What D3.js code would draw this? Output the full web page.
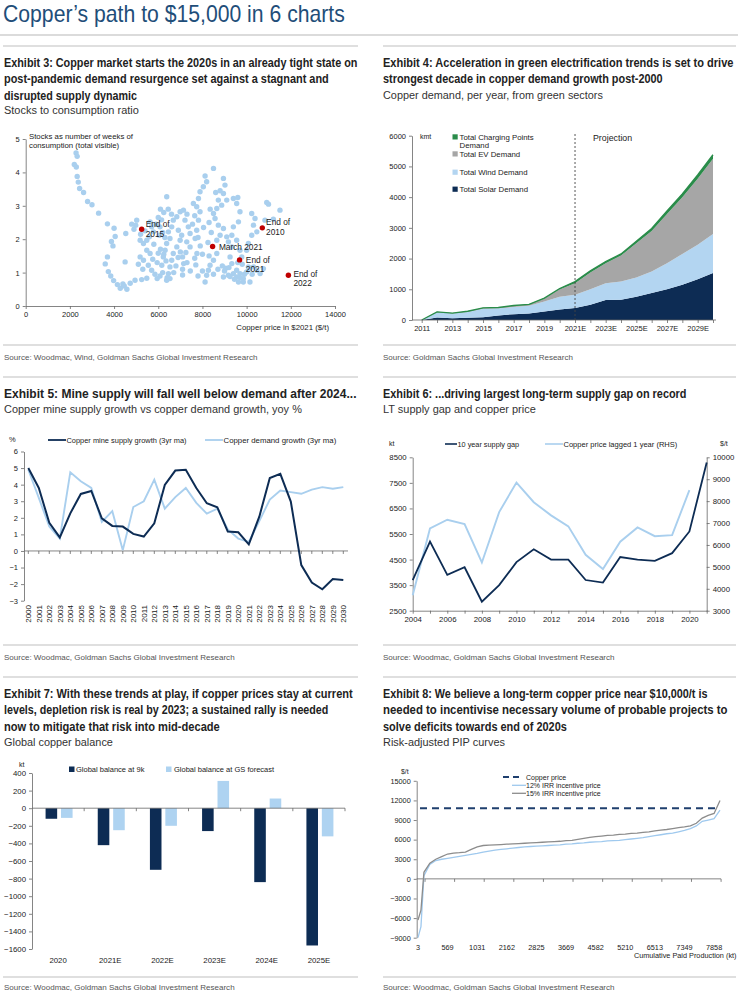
<!DOCTYPE html>
<html><head><meta charset="utf-8">
<script src="https://cdn.jsdelivr.net/npm/d3@7"></script>
<style>
body{margin:0;background:#fff;}
svg{display:block;}
text{font-family:"Liberation Sans",Arial,sans-serif;}
</style></head><body>
<svg id="c" width="738" height="994"></svg>
<script>
// ================= DATA =================
// Exhibit 3: [copper price $2021/t, stocks weeks of consumption]
const ex3Points = [
 [2280,4.58],[2330,4.48],[2200,4.24],[2290,4.16],[2330,3.88],[2380,3.71],[2440,3.52],[2620,3.4],[2800,3.13],[3000,3.03],
 [3300,2.78],[3700,2.46],[4000,2.33],[4050,2.08],[3880,1.93],[3950,1.8],[3700,1.47],[3600,1.26],[3740,1.03],[3850,0.9],
 [3980,0.76],[4150,0.64],[4280,0.53],[4400,0.66],[4460,0.6],[4580,0.5],[4730,0.68],[4950,0.77],[5250,0.79],[5480,0.83],
 [4500,1.32],[4530,2.17],[5025,2.57],[4980,2.42],[5630,2.52],[5700,2.37],[5780,2.22],[5600,2.07],[5480,1.97],[5330,1.87],
 [5180,1.97],[5480,1.67],[5630,1.57],[5330,1.37],[5180,1.47],[5550,1.22],[5700,1.07],[5850,0.95],[5950,0.82],[6080,0.9],
 [6160,1.22],[6230,1.47],[6310,1.67],[6380,1.87],[6530,2.02],[6460,2.22],[6610,2.37],[6680,2.57],[6840,2.67],[6990,2.82],
 [7140,2.87],[6910,2.27],[7060,2.12],[6990,1.97],[6840,1.77],[6680,1.57],[6610,1.37],[6530,1.17],[6460,0.97],[6530,0.82],
 [6380,0.77],[6080,2.37],[6150,2.58],[6100,2.9],[6250,2.8],[6383,3.27],[6000,1.58],[6100,1.7],[5950,1.3],[6050,2.12],
 [7210,2.57],[7360,2.37],[7440,2.17],[7290,1.92],[7440,1.77],[7670,2.02],[7740,2.27],[7820,2.57],[7890,2.82],[7740,2.97],
 [7590,3.07],[7820,3.22],[7890,3.42],[8040,3.57],[8190,3.72],[8500,4.12],[8120,3.89],[8720,3.17],[8870,3.02],[8950,3.37],
 [9020,3.62],[8950,3.82],[9100,3.17],[8650,2.92],[8500,2.77],[8570,2.62],[8720,2.42],[8950,2.32],[8800,2.12],[8650,1.97],
 [8650,1.57],[8500,1.37],[8345,1.22],[8270,1.07],[8190,0.92],[8120,0.72],[7100,1.47],[7150,1.27],[7100,1.1],[7100,0.93],
 [7650,1.43],[7700,1.23],[7750,1.57],[9100,2.07],[9175,1.92],[9330,1.77],[9250,1.47],[9330,1.27],[9400,0.97],[9175,0.92],
 [8950,0.87],[9550,1.07],[9700,0.97],[9850,0.82],[10000,1.02],[10080,1.17],[10150,0.72],[9850,0.72],[9550,0.87],[9630,0.72],
 [9400,3.22],[9550,3.07],[9700,2.82],[9630,2.52],[9400,2.37],[9330,2.12],[9550,1.97],[9700,1.67],[9780,1.47],[10000,1.67],
 [10080,1.87],[10230,2.12],[10310,2.42],[10230,2.77],[10380,2.62],[10460,2.22],[10310,1.17],[10460,1.07],[10610,0.97],[10760,1.12],
 [10910,3.1],[10990,3.05],[11510,2.87],[11210,2.6],[10830,2.57],[9600,3.25],[8800,3.45],[8600,3.4],[9050,1.13],[9250,0.88],
 [5900,2.45],[6000,2.65],[6200,2.2],[6300,2.05],[6250,1.55],[6350,1.35],[6200,1.0],[6400,0.85],[6700,1.0],[6800,1.2],
 [6900,1.45],[7000,1.62],[7250,1.6],[7300,2.75],[7550,2.45],[7650,2.7],[7800,2.05],[7900,1.8],[8000,1.55],[8050,2.35],
 [8300,2.5],[8350,2.9],[8400,2.2],[8250,1.9],[8900,1.2],[9000,1.05],[9200,1.15],[9450,0.8],[9700,0.85],[9900,0.95],
 [10100,1.1],[10250,0.95],[9800,1.25],[9600,1.3],[8700,1.1],[8500,0.95],[8300,1.5],[5400,2.25],[5200,2.15],[5800,1.85],
 [5750,1.4],[5300,1.1],[5100,1.25],[4900,2.3],[4800,2.45],[7300,1.3],[7450,1.05],[7800,0.9],[8000,1.05],[6600,2.75],[6450,2.9]
];
const ex3Highlights = [
 {lines:["End of","2015"], price:5250, ratio:2.3},
 {lines:["March 2021"], price:8460, ratio:1.78},
 {lines:["End of","2021"], price:9680, ratio:1.38},
 {lines:["End of","2010"], price:10710, ratio:2.34},
 {lines:["End of","2022"], price:11890, ratio:0.92}
];
const ex3XTicks = [0,2000,4000,6000,8000,10000,12000,14000];
const ex3YTicks = [0,1,2,3,4,5];

// Exhibit 4: kmt copper demand by green sector
const ex4Years = ["2011","2012","2013","2014","2015","2016","2017","2018","2019","2020","2021E","2022E","2023E","2024E","2025E","2026E","2027E","2028E","2029E","2030E"];
const ex4Solar    = [0,80,60,70,90,150,190,210,280,340,390,500,650,660,760,880,1000,1150,1330,1530];
const ex4Wind     = [0,170,150,190,280,230,230,250,320,420,430,500,550,590,620,700,850,1000,1120,1270];
const ex4EV       = [0,10,10,20,20,20,40,40,100,240,380,550,650,850,1120,1320,1600,1850,2150,2450];
const ex4Charging = [0,5,5,5,5,5,10,10,15,25,50,50,50,50,60,80,100,100,120,130];
const ex4XLabels = ["2011","2013","2015","2017","2019","2021E","2023E","2025E","2027E","2029E"];
const ex4YTicks = [0,1000,2000,3000,4000,5000,6000];

// Exhibit 5: yoy %, 3yr moving average
const ex5Years = [2000,2001,2002,2003,2004,2005,2006,2007,2008,2009,2010,2011,2012,2013,2014,2015,2016,2017,2018,2019,2020,2021,2022,2023,2024,2025,2026,2027,2028,2029,2030];
const ex5Supply = [5.0,3.8,1.7,0.82,2.27,3.44,3.62,1.97,1.51,1.47,1.03,0.87,1.67,3.98,4.85,4.9,3.8,2.88,2.64,1.17,1.13,0.4,2.07,4.4,4.65,2.98,-0.85,-1.91,-2.31,-1.69,-1.75];
const ex5Demand = [4.9,3.2,1.47,0.75,4.75,4.2,3.8,1.75,2.4,0.05,2.65,3.0,4.3,2.55,3.25,3.8,2.9,2.25,2.55,1.3,0.75,0.55,1.8,3.1,3.65,3.55,3.45,3.7,3.85,3.75,3.85];
const ex5YTicks = [-3,-2,-1,0,1,2,3,4,5,6];

// Exhibit 6
const ex6Years = [2004,2005,2006,2007,2008,2009,2010,2011,2012,2013,2014,2015,2016,2017,2018,2019,2020,2021];
const ex6Gap   = [3700,5200,3900,4200,2850,3500,4400,4900,4500,4500,3700,3600,4600,4500,4450,4750,5600,8300];
const ex6PriceYears = [2004,2005,2006,2007,2008,2009,2010,2011,2012,2013,2014,2015,2016,2017,2018,2019,2020];
const ex6Price = [3700,6750,7150,6950,5200,7500,8850,7950,7350,6850,5550,4900,6150,6800,6400,6450,8500];
const ex6LeftTicks = [2500,3500,4500,5500,6500,7500,8500];
const ex6RightTicks = [3000,4000,5000,6000,7000,8000,9000,10000];
const ex6XLabels = [2004,2006,2008,2010,2012,2014,2016,2018,2020];

// Exhibit 7: kt
const ex7Cats = ["2020","2021E","2022E","2023E","2024E","2025E"];
const ex7At9k = [-120,-420,-700,-260,-840,-1560];
const ex7AtGS = [-110,-250,-200,310,110,-320];
const ex7YTicks = [-1600,-1400,-1200,-1000,-800,-600,-400,-200,0,200,400];

// Exhibit 8: risk-adjusted PIP curves ($/t) by project rank
const ex8Idx = [0,1,2,4,6,8,10,12,14,16,18,20,22,24,26,28,30,32,34,36,38,40,42,44,46,48,50,52,54,56,58,60,62,64,66,68,70,72,74,76,78,80,82,84,86,88,90,92,94,96,98,100,102];
const ex8Irr15 = [-6300,-4800,1000,2400,3000,3400,3800,3950,4000,4100,4500,4900,5100,5150,5200,5250,5300,5350,5400,5450,5500,5550,5600,5650,5700,5750,5850,5900,6050,6200,6350,6450,6550,6650,6700,6800,6850,6950,7000,7100,7200,7350,7450,7550,7700,7850,7950,8100,8500,9300,9700,10000,12000];
const ex8Irr12 = [-9000,-7300,500,2200,2800,3000,3150,3300,3450,3600,3750,3900,4100,4250,4400,4500,4600,4700,4800,4900,4950,5000,5050,5100,5150,5200,5300,5350,5450,5500,5600,5650,5700,5800,5850,5900,6000,6100,6200,6300,6450,6600,6750,6900,7000,7200,7400,7700,8100,8800,9000,9200,10500];
const ex8CopperPrice = 10800;
const ex8XLabels = ["3","569","1031","2162","2825","3669","4582","5210","6513","7349","7858"];
const ex8XLabelIdx = [0,10,20,30,40,50,60,70,80,90,100];
const ex8YTicks = [-9000,-6000,-3000,0,3000,6000,9000,12000,15000];

// ================= DRAWING =================
const NAVY = "#0d2c54", LIGHT = "#a9cfee", GREY = "#8c8c8c", RED = "#c00000";
const AX = "#666";
const NARROW = '"Liberation Sans Narrow","DejaVu Sans Condensed","Arial Narrow","Liberation Sans",sans-serif';
const plain = d3.format("d");
const svg = d3.select("#c");
svg.append("rect").attr("width",738).attr("height",994).attr("fill","#fff");

function txt(g, x, y, s, o = {}) {
  const t = g.append("text").text(s)
    .attr("font-size", o.size || 7.5).attr("fill", o.fill || "#222")
    .attr("text-anchor", o.anchor || "start");
  if (o.family) t.attr("font-family", o.family);
  if (o.weight) t.attr("font-weight", o.weight);
  if (o.len) {
    // horizontally scale to the measured width of the reference line
    const w = t.node().getComputedTextLength();
    const sx = w > 0 ? o.len / w : 1;
    t.attr("x", 0).attr("y", 0).attr("transform", `translate(${x},${y}) scale(${sx},1)`);
  } else {
    t.attr("x", x).attr("y", y);
  }
  return t;
}
function hline(x1, x2, y, c, w) {
  svg.append("line").attr("x1", x1).attr("x2", x2).attr("y1", y).attr("y2", y).attr("stroke", c).attr("stroke-width", w);
}
function styleAxis(sel, size) {
  sel.select(".domain").attr("stroke", AX).attr("stroke-width", 0.8);
  sel.selectAll(".tick line").attr("stroke", AX).attr("stroke-width", 0.8);
  sel.selectAll(".tick text").attr("font-size", size || 7.5).attr("fill", "#222")
     .attr("font-family", '"Liberation Sans",Arial,sans-serif');
}
function title(x, ys, lines, lens, sub, subLen, subY) {
  lines.forEach((l, i) => txt(svg, x, ys[i], l, {size: 12.5, weight: "bold", family: NARROW, fill: "#222", len: lens[i]}));
  txt(svg, x, subY, sub, {size: 11.5, family: NARROW, fill: "#333", len: subLen});
}
function source(x, y, s, len) { txt(svg, x, y, s, {size: 8, family: NARROW, fill: "#555", len: len}); }

// ---- page header ----
txt(svg, 3, 22, "Copper’s path to $15,000 in 6 charts", {size: 24, family: NARROW, fill: "#1f4e79", len: 342});
hline(0, 738, 35, "#b8b8b8", 1.2);
[46, 345, 377, 645, 677, 977].forEach(y => {
  hline(3, 358, y, "#d4d4d4", 1.3); hline(383, 736, y, "#d4d4d4", 1.3);
});

// ---- titles ----
title(4, [66.5, 83, 99.5], ["Exhibit 3: Copper market starts the 2020s in an already tight state on",
  "post-pandemic demand resurgence set against a stagnant and", "disrupted supply dynamic"], [354, 325, 133],
  "Stocks to consumption ratio", 135, 114);
title(383, [66.5, 83], ["Exhibit 4: Acceleration in green electrification trends is set to drive",
  "strongest decade in copper demand growth post-2000"], [351, 280],
  "Copper demand, per year, from green sectors", 220, 98.5);
title(4, [397.5], ["Exhibit 5: Mine supply will fall well below demand after 2024..."], [353],
  "Copper mine supply growth vs copper demand growth, yoy %", 298, 413);
title(383, [397.5], ["Exhibit 6: ...driving largest long-term supply gap on record"], [304],
  "LT supply gap and copper price", 153, 413);
title(4, [697.5, 714, 730.5], ["Exhibit 7: With these trends at play, if copper prices stay at current",
  "levels, depletion risk is real by 2023; a sustained rally is needed", "now to mitigate that risk into mid-decade"],
  [349, 325, 216], "Global copper balance", 109, 745.5);
title(383, [697.5, 714, 730.5], ["Exhibit 8: We believe a long-term copper price near $10,000/t is",
  "needed to incentivise necessary volume of probable projects to", "solve deficits towards end of 2020s"],
  [325, 345, 184], "Risk-adjusted PIP curves", 122, 745.5);

source(4, 360, "Source: Woodmac, Wind, Goldman Sachs Global Investment Research", 254);
source(383, 360, "Source: Goldman Sachs Global Investment Research", 190);
source(4, 660, "Source: Woodmac, Goldman Sachs Global Investment Research", 231);
source(383, 660, "Source: Woodmac, Goldman Sachs Global Investment Research", 232);
source(4, 990, "Source: Woodmac, Goldman Sachs Global Investment Research", 231);
source(383, 990, "Source: Woodmac, Goldman Sachs Global Investment Research", 232);

// ================= Exhibit 3 =================
{
  const x = d3.scaleLinear().domain([0, 14000]).range([25.7, 335]);
  const y = d3.scaleLinear().domain([0, 5]).range([306, 139]);
  const g = svg.append("g");
  g.append("g").selectAll("circle").data(ex3Points).join("circle")
    .attr("cx", d => x(d[0])).attr("cy", d => y(d[1])).attr("r", 2.7).attr("fill", LIGHT);
  const ax = g.append("g").attr("transform", "translate(0,306)")
    .call(d3.axisBottom(x).tickValues(ex3XTicks).tickSize(3).tickSizeOuter(0).tickFormat(plain));
  styleAxis(ax);
  const ay = g.append("g").attr("transform", "translate(25.7,0)")
    .call(d3.axisLeft(y).tickValues(ex3YTicks).tickSize(3).tickSizeOuter(0).tickFormat(plain));
  styleAxis(ay);
  const offs = [[4,-5,10],[6.3,0,0],[6.3,0,9.5],[3.8,-6,10],[5,-1.3,9.5]];
  ex3Highlights.forEach((h, i) => {
    const cx = x(h.price), cy = y(h.ratio);
    g.append("circle").attr("cx", cx).attr("cy", cy).attr("r", 2.7).attr("fill", RED);
    h.lines.forEach((l, j) => txt(g, cx + offs[i][0], cy + offs[i][1] + j * offs[i][2] + 3, l, {size: 8.3, fill: "#222"}));
  });
  txt(g, 29, 138.5, "Stocks as number of weeks of", {size: 7.8});
  txt(g, 29, 148, "consumption (total visible)", {size: 7.8});
  txt(g, 329, 329.5, "Copper price in $2021 ($/t)", {size: 7.8, anchor: "end"});
}

// ================= Exhibit 4 =================
{
  const x = d3.scalePoint().domain(ex4Years).range([421.7, 713]);
  const y = d3.scaleLinear().domain([0, 6000]).range([320, 135.7]);
  const g = svg.append("g");
  const rows = ex4Years.map((yr, i) => ({year: yr, solar: ex4Solar[i], wind: ex4Wind[i], ev: ex4EV[i], charging: ex4Charging[i]}));
  const keys = ["solar", "wind", "ev", "charging"];
  const colors = {solar: NAVY, wind: "#b3d5f1", ev: "#a6a6a6", charging: "#2a8c4a"};
  const series = d3.stack().keys(keys)(rows);
  const area = d3.area().x(d => x(d.data.year)).y0(d => y(d[0])).y1(d => y(d[1]));
  g.selectAll("path.layer").data(series).join("path").attr("class", "layer")
    .attr("d", area).attr("fill", d => colors[d.key]);
  g.append("path").datum(series[3]).attr("fill", "none").attr("stroke", colors.charging).attr("stroke-width", 1.4)
    .attr("d", d3.line().x(d => x(d.data.year)).y(d => y(d[1])));
  const ay = g.append("g").attr("transform", "translate(412,0)")
    .call(d3.axisLeft(y).tickValues(ex4YTicks).tickSize(3).tickSizeOuter(0).tickFormat(plain));
  styleAxis(ay);
  const ax = g.append("g").attr("transform", "translate(0,320)")
    .call(d3.axisBottom(x).tickSize(3).tickSizeOuter(0).tickFormat(d => ex4XLabels.includes(d) ? d : ""));
  styleAxis(ax);
  ax.select(".domain").remove();
  g.append("line").attr("x1", 412).attr("x2", 716).attr("y1", 320).attr("y2", 320).attr("stroke", AX).attr("stroke-width", 0.8);
  g.append("line").attr("x1", x("2021E")).attr("x2", x("2021E")).attr("y1", 134).attr("y2", 320)
    .attr("stroke", "#444").attr("stroke-width", 0.9).attr("stroke-dasharray", "2,2");
  txt(g, 593, 140.5, "Projection", {size: 8.8});
  txt(g, 420, 139, "kmt", {size: 7});
  const leg = [["charging", ["Total Charging Points", "Demand"], 137], ["ev", ["Total EV Demand"], 154],
               ["wind", ["Total Wind Demand"], 172.3], ["solar", ["Total Solar Demand"], 189.3]];
  leg.forEach(([k, lines, cy]) => {
    g.append("rect").attr("x", 452.5).attr("y", cy - 2.7).attr("width", 5.2).attr("height", 5.2).attr("fill", colors[k]);
    lines.forEach((l, j) => txt(g, 459.5, cy + 3 + j * 8, l, {size: 7.8}));
  });
}

// ================= Exhibit 5 =================
{
  const x = d3.scaleLinear().domain([2000, 2030]).range([28.3, 343.3]);
  const y = d3.scaleLinear().domain([-3, 6]).range([600.7, 451.5]);
  const g = svg.append("g");
  const ay = g.append("g").attr("transform", "translate(24,0)")
    .call(d3.axisLeft(y).tickValues(ex5YTicks).tickSize(3).tickSizeOuter(0).tickFormat(plain));
  styleAxis(ay, 7.5);
  g.append("line").attr("x1", 24).attr("x2", 348).attr("y1", y(0)).attr("y2", y(0)).attr("stroke", AX).attr("stroke-width", 0.8);
  g.selectAll("line.yt").data(ex5Years).join("line").attr("class", "yt")
    .attr("x1", d => x(d)).attr("x2", d => x(d)).attr("y1", y(0)).attr("y2", y(0) + 3).attr("stroke", AX).attr("stroke-width", 0.8);
  g.selectAll("text.yr").data(ex5Years).join("text").attr("class", "yr")
    .attr("transform", d => `translate(${x(d) + 2.8},605) rotate(-90)`)
    .attr("text-anchor", "end").attr("font-size", 8).attr("fill", "#222").text(d => d);
  const line = d3.line().x((d, i) => x(ex5Years[i])).y(d => y(d));
  g.append("path").datum(ex5Demand).attr("d", line).attr("fill", "none").attr("stroke", LIGHT).attr("stroke-width", 1.9);
  g.append("path").datum(ex5Supply).attr("d", line).attr("fill", "none").attr("stroke", NAVY).attr("stroke-width", 2);
  txt(g, 9, 442, "%", {size: 7.5});
  g.append("line").attr("x1", 48).attr("x2", 66).attr("y1", 440).attr("y2", 440).attr("stroke", NAVY).attr("stroke-width", 1.8);
  txt(g, 66.5, 442.6, "Copper mine supply growth (3yr ma)", {size: 7.3, len: 120});
  g.append("line").attr("x1", 205).attr("x2", 223).attr("y1", 440).attr("y2", 440).attr("stroke", LIGHT).attr("stroke-width", 1.8);
  txt(g, 223.5, 442.6, "Copper demand growth (3yr ma)", {size: 7.3, len: 113});
}

// ================= Exhibit 6 =================
{
  const x = d3.scaleLinear().domain([2004, 2021]).range([412.7, 706.7]);
  const yL = d3.scaleLinear().domain([2500, 8500]).range([610.7, 457.3]);
  const yR = d3.scaleLinear().domain([3000, 10000]).range([610.7, 457.3]);
  const g = svg.append("g");
  const al = g.append("g").attr("transform", "translate(412.7,0)")
    .call(d3.axisLeft(yL).tickValues(ex6LeftTicks).tickSize(3).tickSizeOuter(0).tickFormat(plain));
  styleAxis(al, 7.8);
  const ar = g.append("g").attr("transform", "translate(706.7,0)")
    .call(d3.axisRight(yR).tickValues(ex6RightTicks).tickSize(3).tickSizeOuter(0).tickFormat(plain));
  styleAxis(ar, 7.8);
  const ab = g.append("g").attr("transform", "translate(0,610.7)")
    .call(d3.axisBottom(x).tickValues(ex6Years).tickSize(3).tickSizeOuter(0).tickFormat(d => ex6XLabels.includes(d) ? String(d) : ""));
  styleAxis(ab, 7.8);
  g.append("path").datum(ex6Price).attr("fill", "none").attr("stroke", LIGHT).attr("stroke-width", 1.9)
    .attr("d", d3.line().x((d, i) => x(ex6PriceYears[i])).y(d => yR(d)));
  g.append("path").datum(ex6Gap).attr("fill", "none").attr("stroke", NAVY).attr("stroke-width", 1.8)
    .attr("d", d3.line().x((d, i) => x(ex6Years[i])).y(d => yL(d)));
  txt(g, 389, 446, "kt", {size: 7});
  txt(g, 720, 446, "$/t", {size: 7});
  g.append("line").attr("x1", 445).attr("x2", 457).attr("y1", 444).attr("y2", 444).attr("stroke", NAVY).attr("stroke-width", 1.6);
  txt(g, 457.5, 446.6, "10 year supply gap", {size: 7.3});
  g.append("line").attr("x1", 545).attr("x2", 563).attr("y1", 444).attr("y2", 444).attr("stroke", LIGHT).attr("stroke-width", 1.6);
  txt(g, 563.5, 446.6, "Copper price lagged 1 year (RHS)", {size: 7.3, len: 114});
}

// ================= Exhibit 7 =================
{
  const x0 = d3.scaleBand().domain(ex7Cats).range([32, 345]).padding(0);
  const inner = 27;
  const x1 = d3.scaleBand().domain(["9k", "gs"]).range([0, inner]).paddingInner(0.25);
  const y = d3.scaleLinear().domain([-1600, 400]).range([949, 773]);
  const g = svg.append("g");
  const ay = g.append("g").attr("transform", "translate(32,0)")
    .call(d3.axisLeft(y).tickValues(ex7YTicks).tickSize(3).tickSizeOuter(0).tickFormat(plain));
  styleAxis(ay, 7.8);
  const off = (x0.bandwidth() - inner) / 2 + 1;
  [["9k", ex7At9k, NAVY], ["gs", ex7AtGS, "#aed3f1"]].forEach(([k, vals, c]) => {
    g.selectAll("rect.b" + k).data(vals).join("rect").attr("class", "b" + k)
      .attr("x", (d, i) => x0(ex7Cats[i]) + off + x1(k)).attr("width", x1.bandwidth())
      .attr("y", d => y(Math.max(0, d))).attr("height", d => Math.abs(y(d) - y(0))).attr("fill", c);
  });
  g.append("line").attr("x1", 32).attr("x2", 345).attr("y1", y(0)).attr("y2", y(0)).attr("stroke", AX).attr("stroke-width", 0.8);
  g.selectAll("line.bt").data(ex7Cats).join("line").attr("class", "bt")
    .attr("x1", d => x0(d) + x0.bandwidth()).attr("x2", d => x0(d) + x0.bandwidth())
    .attr("y1", y(0)).attr("y2", y(0) + 3).attr("stroke", AX).attr("stroke-width", 0.8);
  g.selectAll("text.cat").data(ex7Cats).join("text").attr("class", "cat")
    .attr("x", d => x0(d) + x0.bandwidth() / 2).attr("y", 963).attr("text-anchor", "middle")
    .attr("font-size", 7.8).attr("fill", "#222").text(d => d);
  txt(g, 19, 767, "kt", {size: 7});
  g.append("rect").attr("x", 69).attr("y", 766.5).attr("width", 5.5).attr("height", 5.5).attr("fill", NAVY);
  txt(g, 76, 772, "Global balance at 9k", {size: 7.5});
  g.append("rect").attr("x", 166).attr("y", 766.5).attr("width", 5.5).attr("height", 5.5).attr("fill", "#aed3f1");
  txt(g, 174, 772, "Global balance at GS forecast", {size: 7.5});
}

// ================= Exhibit 8 =================
{
  const x = d3.scaleLinear().domain([0, 102]).range([418, 720]);
  const y = d3.scaleLinear().domain([-9000, 15000]).range([937.7, 780.8]);
  const g = svg.append("g");
  const ay = g.append("g").attr("transform", "translate(416.7,0)")
    .call(d3.axisLeft(y).tickValues(ex8YTicks).tickSize(3).tickSizeOuter(0).tickFormat(plain));
  styleAxis(ay, 7.3);
  g.append("line").attr("x1", 416.7).attr("x2", 721).attr("y1", y(0)).attr("y2", y(0)).attr("stroke", AX).attr("stroke-width", 0.8);
  g.selectAll("line.xt").data(ex8XLabelIdx).join("line").attr("class", "xt")
    .attr("x1", d => x(d) + 7).attr("x2", d => x(d) + 7).attr("y1", y(0)).attr("y2", y(0) + 3)
    .attr("stroke", AX).attr("stroke-width", 0.8);
  g.selectAll("text.xl").data(ex8XLabels).join("text").attr("class", "xl")
    .attr("x", (d, i) => x(ex8XLabelIdx[i])).attr("y", 949.5).attr("text-anchor", "middle")
    .attr("font-size", 7.3).attr("fill", "#222").text(d => d);
  txt(g, 736.5, 958, "Cumulative Paid Production (kt)", {size: 7.3, anchor: "end"});
  txt(g, 401, 774, "$/t", {size: 6.8});
  const line = d3.line().x((d, i) => x(ex8Idx[i])).y(d => y(d));
  g.append("path").datum(ex8Irr12).attr("d", line).attr("fill", "none").attr("stroke", "#9fc9ee").attr("stroke-width", 1.3);
  g.append("path").datum(ex8Irr15).attr("d", line).attr("fill", "none").attr("stroke", GREY).attr("stroke-width", 1.3);
  g.append("line").attr("x1", 420).attr("x2", 720).attr("y1", y(ex8CopperPrice)).attr("y2", y(ex8CopperPrice))
    .attr("stroke", "#1f3f6e").attr("stroke-width", 1.8).attr("stroke-dasharray", "7,5");
  g.append("line").attr("x1", 503).attr("x2", 522).attr("y1", 777).attr("y2", 777)
    .attr("stroke", "#1f3f6e").attr("stroke-width", 1.8).attr("stroke-dasharray", "6,4");
  txt(g, 526, 779.5, "Copper price", {size: 7});
  g.append("line").attr("x1", 512).attr("x2", 526).attr("y1", 785.3).attr("y2", 785.3).attr("stroke", "#9fc9ee").attr("stroke-width", 1.3);
  txt(g, 526, 787.8, "12% IRR incentive price", {size: 7});
  g.append("line").attr("x1", 512).attr("x2", 526).attr("y1", 793.3).attr("y2", 793.3).attr("stroke", GREY).attr("stroke-width", 1.3);
  txt(g, 526, 795.8, "15% IRR incentive price", {size: 7});
}
</script></body></html>
